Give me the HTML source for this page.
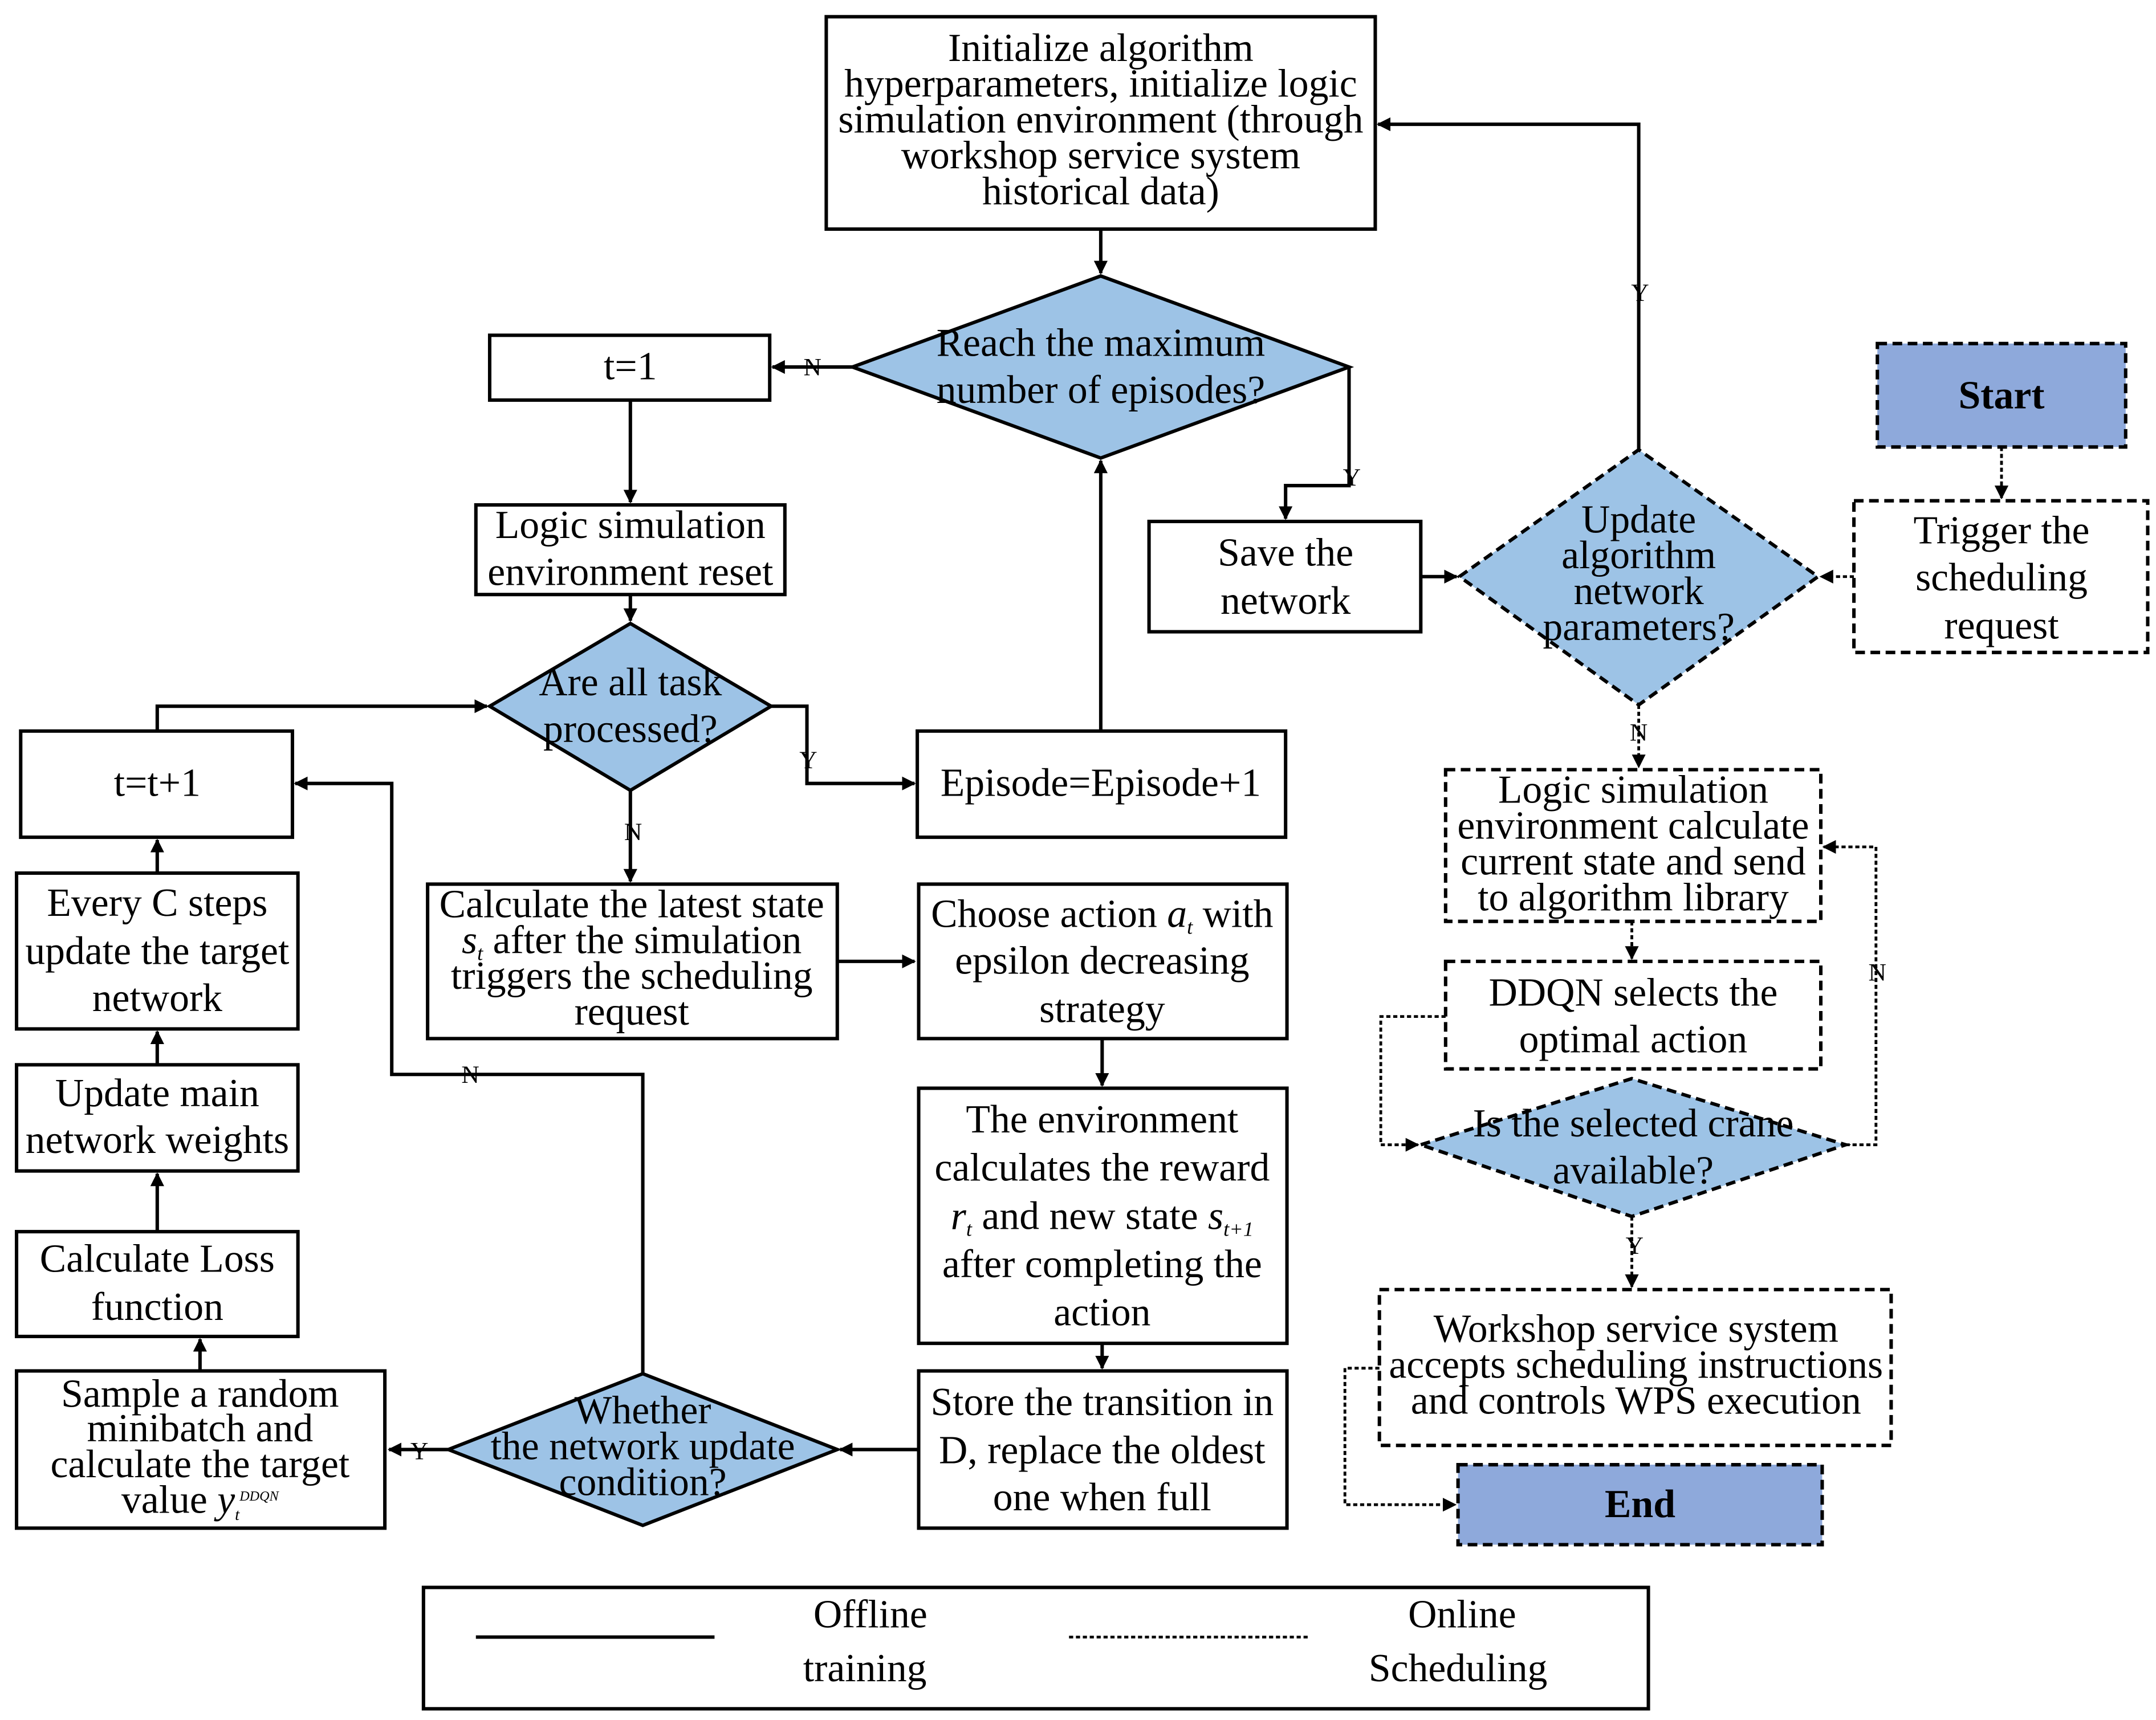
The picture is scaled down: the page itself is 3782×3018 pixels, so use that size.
<!DOCTYPE html>
<html><head><meta charset="utf-8"><style>html,body{margin:0;padding:0;background:#fff}svg{display:block}</style></head>
<body>
<svg width="3782" height="3018" viewBox="0 0 1563 1247" xmlns="http://www.w3.org/2000/svg" font-family="Liberation Serif, serif" font-size="28.8" text-anchor="middle">
<defs>
<marker id="a" markerWidth="10" markerHeight="10" refX="9" refY="5" orient="auto" markerUnits="userSpaceOnUse"><path d="M0,0 L10,5 L0,10 Z" fill="#000"/></marker>
</defs>
<g fill="none" stroke="#000" stroke-width="2.5">
<rect x="599" y="12" width="398" height="154" fill="#fff"/>
<rect x="355" y="243" width="203" height="47"/>
<rect x="345" y="366" width="224" height="65"/>
<rect x="665" y="530" width="267" height="77"/>
<rect x="833" y="378" width="197" height="80"/>
<rect x="310" y="641" width="297" height="112"/>
<rect x="666" y="641" width="267" height="112"/>
<rect x="666" y="789" width="267" height="185"/>
<rect x="666" y="994" width="267" height="114"/>
<rect x="12" y="994" width="267" height="114"/>
<rect x="12" y="893" width="204" height="76"/>
<rect x="12" y="772" width="204" height="77"/>
<rect x="12" y="633" width="204" height="113"/>
<rect x="15" y="530" width="197" height="77"/>
<rect x="307" y="1151" width="888" height="88"/>
<polygon points="618,266 798,200 978,266 798,332" fill="#9DC3E6"/>
<polygon points="355,512 457,452 559,512 457,573" fill="#9DC3E6"/>
<polygon points="325,1051 466,996 607,1051 466,1106" fill="#9DC3E6"/>
<path d="M798,166 V198" marker-end="url(#a)"/>
<path d="M618,266 H560" marker-end="url(#a)"/>
<path d="M457,290 V364" marker-end="url(#a)"/>
<path d="M457,431 V450" marker-end="url(#a)"/>
<path d="M559,512 H585 V568 H663" marker-end="url(#a)"/>
<path d="M798,530 V334" marker-end="url(#a)"/>
<path d="M978,266 V352 H932 V376" marker-end="url(#a)"/>
<path d="M1030,418 H1056" marker-end="url(#a)"/>
<path d="M1188,326 V90 H999" marker-end="url(#a)"/>
<path d="M457,573 V639" marker-end="url(#a)"/>
<path d="M607,697 H663" marker-end="url(#a)"/>
<path d="M799,753 V787" marker-end="url(#a)"/>
<path d="M799,974 V992" marker-end="url(#a)"/>
<path d="M666,1051 H609" marker-end="url(#a)"/>
<path d="M325,1051 H282" marker-end="url(#a)"/>
<path d="M145,994 V971" marker-end="url(#a)"/>
<path d="M114,893 V851" marker-end="url(#a)"/>
<path d="M114,772 V748" marker-end="url(#a)"/>
<path d="M114,633 V609" marker-end="url(#a)"/>
<path d="M114,530 V512 H353" marker-end="url(#a)"/>
<path d="M466,996 V779 H284 V568 H214" marker-end="url(#a)"/>
<path d="M345,1187 H518"/>
</g>
<g fill="none" stroke="#000" stroke-width="2.5" stroke-dasharray="7,4">
<rect x="1361" y="249" width="180" height="75" fill="#8EA9DB"/>
<rect x="1344" y="363" width="213" height="110"/>
<rect x="1048" y="558" width="272" height="110"/>
<rect x="1048" y="697" width="272" height="78"/>
<rect x="1000" y="935" width="371" height="113"/>
<rect x="1057" y="1062" width="264" height="58" fill="#8EA9DB"/>
<polygon points="1058,418 1188,326 1318,418 1188,511" fill="#9DC3E6"/>
<polygon points="1030,830 1183,782 1338,830 1183,882" fill="#9DC3E6"/>
</g>
<g fill="none" stroke="#000" stroke-width="2" stroke-dasharray="3,2">
<path d="M1451,324 V361" marker-end="url(#a)"/>
<path d="M1344,418 H1320" marker-end="url(#a)"/>
<path d="M1188,511 V556" marker-end="url(#a)"/>
<path d="M1183,668 V695" marker-end="url(#a)"/>
<path d="M1048,737 H1001 V830 H1028" marker-end="url(#a)"/>
<path d="M1338,830 H1360 V614 H1322" marker-end="url(#a)"/>
<path d="M1183,882 V933" marker-end="url(#a)"/>
<path d="M1000,992 H975 V1091 H1055" marker-end="url(#a)"/>
<path d="M775,1187 H948"/>
</g>
<g fill="#000">
<text x="798" y="44">Initialize algorithm</text>
<text x="798" y="70">hyperparameters, initialize logic</text>
<text x="798" y="96">simulation environment (through</text>
<text x="798" y="122">workshop service system</text>
<text x="798" y="148">historical data)</text>
<text x="798" y="258">Reach the maximum</text>
<text x="798" y="292">number of episodes?</text>
<text x="457" y="275">t=1</text>
<text x="457" y="390">Logic simulation</text>
<text x="457" y="424">environment reset</text>
<text x="457" y="504">Are all task</text>
<text x="457" y="538">processed?</text>
<text x="798" y="577">Episode=Episode+1</text>
<text x="932" y="410">Save the</text>
<text x="932" y="445">network</text>
<text x="1188" y="386">Update</text>
<text x="1188" y="412">algorithm</text>
<text x="1188" y="438">network</text>
<text x="1188" y="464">parameters?</text>
<text x="1451" y="296" font-weight="bold">Start</text>
<text x="1451" y="394">Trigger the</text>
<text x="1451" y="428">scheduling</text>
<text x="1451" y="463">request</text>
<text x="1184" y="582">Logic simulation</text>
<text x="1184" y="608">environment calculate</text>
<text x="1184" y="634">current state and send</text>
<text x="1184" y="660">to algorithm library</text>
<text x="1184" y="729">DDQN selects the</text>
<text x="1184" y="763">optimal action</text>
<text x="1184" y="824">Is the selected crane</text>
<text x="1184" y="858">available?</text>
<text x="1186" y="973">Workshop service system</text>
<text x="1186" y="999">accepts scheduling instructions</text>
<text x="1186" y="1025">and controls WPS execution</text>
<text x="1189" y="1100" font-weight="bold">End</text>
<text x="458" y="665">Calculate the latest state</text>
<text x="458" y="691"><tspan font-style="italic">s<tspan font-size="15" dy="5">t</tspan></tspan><tspan dy="-5"> after the simulation</tspan></text>
<text x="458" y="717">triggers the scheduling</text>
<text x="458" y="743">request</text>
<text x="799" y="672">Choose action <tspan font-style="italic">a<tspan font-size="15" dy="5">t</tspan></tspan><tspan dy="-5"> with</tspan></text>
<text x="799" y="706">epsilon decreasing</text>
<text x="799" y="741">strategy</text>
<text x="799" y="821">The  environment</text>
<text x="799" y="856">calculates the reward</text>
<text x="799" y="891"><tspan font-style="italic">r<tspan font-size="15" dy="5">t</tspan></tspan><tspan dy="-5"> and new state </tspan><tspan font-style="italic">s<tspan font-size="15" dy="5">t+1</tspan></tspan></text>
<text x="799" y="926">after completing the</text>
<text x="799" y="961">action</text>
<text x="799" y="1026">Store the transition in</text>
<text x="799" y="1061">D, replace the oldest</text>
<text x="799" y="1095">one when full</text>
<text x="466" y="1032">Whether</text>
<text x="466" y="1058">the network update</text>
<text x="466" y="1084">condition?</text>
<text x="145" y="1020">Sample a random</text>
<text x="145" y="1045">minibatch and</text>
<text x="145" y="1071">calculate the target</text>
<text x="145" y="1097">value <tspan font-style="italic">y<tspan font-size="12" dy="5">t</tspan><tspan font-size="10" dy="-14">DDQN</tspan></tspan></text>
<text x="114" y="922">Calculate Loss</text>
<text x="114" y="957">function</text>
<text x="114" y="802">Update main</text>
<text x="114" y="836">network weights</text>
<text x="114" y="664">Every C steps</text>
<text x="114" y="699">update the target</text>
<text x="114" y="733">network</text>
<text x="114" y="577">t=t+1</text>
<text x="631" y="1180">Offline</text>
<text x="627" y="1219">training</text>
<text x="1060" y="1180">Online</text>
<text x="1057" y="1219">Scheduling</text>
<g font-size="18">
<text x="589" y="272">N</text>
<text x="980" y="352">Y</text>
<text x="586" y="557">Y</text>
<text x="1189" y="218">Y</text>
<text x="1188" y="537">N</text>
<text x="1361" y="711">N</text>
<text x="1185" y="909">Y</text>
<text x="459" y="609">N</text>
<text x="304" y="1058">Y</text>
<text x="341" y="785">N</text>
</g>
</g>
</svg>
</body></html>
